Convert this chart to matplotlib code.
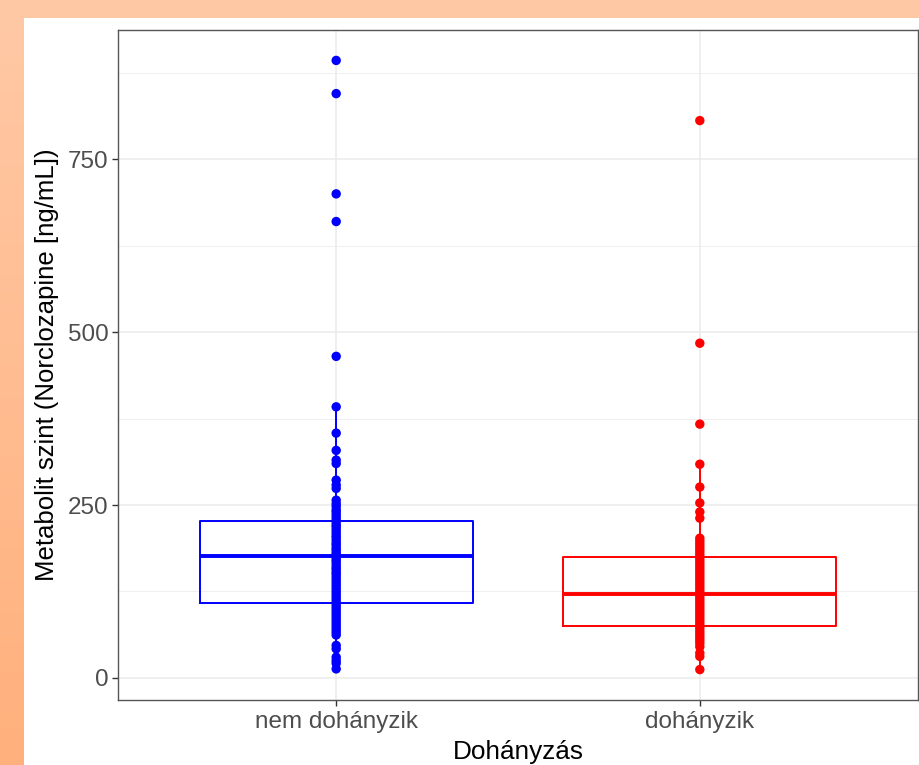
import numpy as np
import matplotlib
matplotlib.use("Agg")
import matplotlib.pyplot as plt
from matplotlib.patches import Rectangle

# ---------------- data ----------------
categories = ["nem dohányzik", "dohányzik"]
colors = ["#0000FF", "#FF0000"]

# box statistics (ng/mL)
q1 = [108, 75]
median = [176, 121]
q3 = [227, 175]
whisker_low = [13, 12]
whisker_high = [392, 309]

blue_points = [893, 845, 700, 660, 465, 392, 354, 329, 315, 310, 286, 279, 274,
               257, 252, 248, 243, 240, 236, 232, 228, 225, 221, 218, 214, 210,
               206, 203, 199, 195, 192, 188, 185, 181, 178, 175, 171, 168, 164,
               160, 157, 153, 150, 146, 142, 138, 134, 130, 126, 122, 118, 114,
               110, 106, 102, 98, 94, 90, 86, 82, 78, 74, 70, 66, 62, 47, 42,
               30, 25, 21, 13]
red_points = [806, 484, 367, 309, 276, 253, 240, 231, 202, 198, 194, 190, 186,
              182, 178, 174, 170, 166, 162, 158, 154, 150, 146, 142, 138, 134,
              130, 126, 122, 118, 114, 110, 106, 102, 98, 94, 90, 86, 82, 78,
              74, 70, 66, 62, 58, 54, 50, 45, 36, 31, 12]
points = [blue_points, red_points]

y_ticks = [0, 250, 500, 750]
x_label = "Dohányzás"
y_label = "Metabolit szint (Norclozapine [ng/mL])"

# ---------------- figure ----------------
plt.rcParams['font.family'] = ['Liberation Sans', 'DejaVu Sans']
W, H = 919, 765
fig = plt.figure(figsize=(W / 100, H / 100), dpi=100)

# orange gradient frame background
bg = fig.add_axes([0, 0, 1, 1])
bg.set_axis_off()
top_c = np.array([255, 201, 166]) / 255
bot_c = np.array([255, 176, 124]) / 255
t = np.linspace(0, 1, 256)[:, None]
grad = (1 - t) * top_c + t * bot_c
grad = np.repeat(grad[:, None, :], 2, axis=1)
bg.imshow(grad, aspect='auto', extent=[0, 1, 0, 1], origin='upper')
bg.add_patch(Rectangle((24 / W, 0), 1, 1 - 18 / H, transform=bg.transAxes,
                       facecolor='white', edgecolor='none'))
bg.set_xlim(0, 1)
bg.set_ylim(0, 1)

left, right = 118 / W, 918 / W
bottom, top = 1 - 700 / H, 1 - 30 / H
ax = fig.add_axes([left, bottom, right - left, top - bottom])
ax.set_facecolor('white')

positions = np.arange(1, len(categories) + 1)

# grid
ax.set_ylim(-32, 937)
ax.set_xlim(0.4, 2.6)
ax.set_yticks(y_ticks)
minor = [(a + b) / 2 for a, b in zip(y_ticks[:-1], y_ticks[1:])] + [y_ticks[-1] + 125]
ax.set_yticks(minor, minor=True)
ax.set_xticks(positions)
ax.set_xticklabels(categories)
ax.grid(True, which='major', color='#EBEBEB', lw=1.1, zorder=0)
ax.grid(True, which='minor', axis='y', color='#EBEBEB', lw=0.55, zorder=0)
ax.tick_params(which='minor', length=0)
ax.set_axisbelow(True)

# boxes
stats = []
for i in range(len(categories)):
    stats.append(dict(q1=q1[i], med=median[i], q3=q3[i],
                      whislo=whisker_low[i], whishi=whisker_high[i], fliers=[]))
for i, st in enumerate(stats):
    c = colors[i]
    ax.bxp([st], positions=[positions[i]], widths=0.75, showcaps=False,
           showfliers=False, patch_artist=False,
           boxprops=dict(color=c, lw=1.4),
           whiskerprops=dict(color=c, lw=1.4),
           medianprops=dict(color=c, lw=2.8),
           manage_ticks=False)

# points
for i, pts in enumerate(points):
    ax.scatter(np.full(len(pts), positions[i]), pts, s=46, color=colors[i],
               edgecolors='none', zorder=3)

for sp in ax.spines.values():
    sp.set_color('#555555')
    sp.set_linewidth(1.0)

ax.tick_params(axis='both', which='major', length=4, width=1.0, color='#333333',
               labelcolor='#4D4D4D', labelsize=17.5)
ax.tick_params(axis='x', pad=4)
ax.tick_params(axis='y', pad=3)
ax.set_xlabel(x_label, fontsize=18.8, color='black', labelpad=5)
ax.set_ylabel(y_label, fontsize=18.5, color='black', labelpad=6)

fig.savefig("out.png", dpi=100)
